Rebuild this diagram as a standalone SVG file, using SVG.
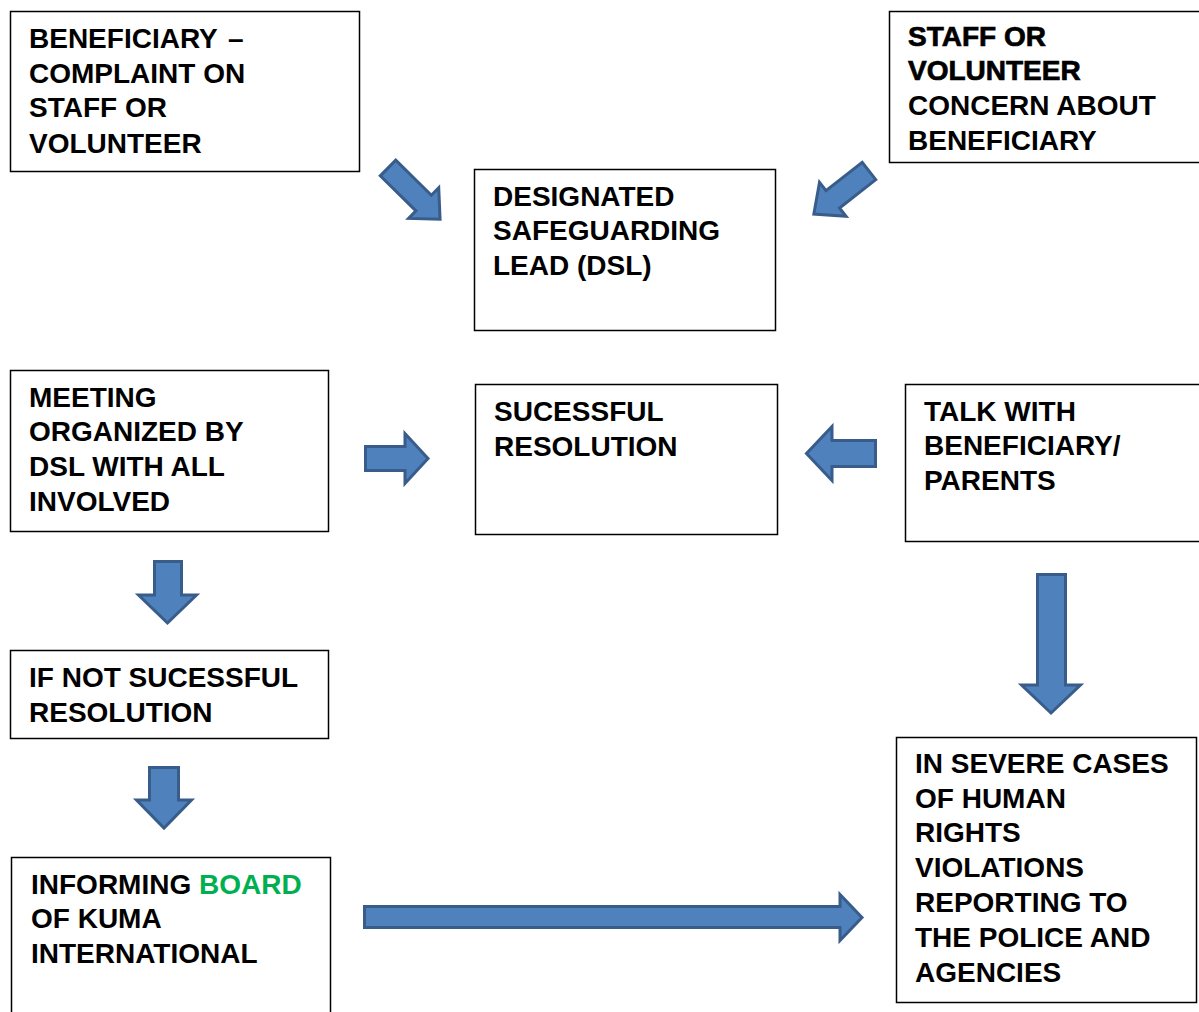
<svg xmlns="http://www.w3.org/2000/svg" width="1199" height="1012" viewBox="0 0 1199 1012">
<style>
.box{fill:#fff;stroke:#000;stroke-width:1.5}
.t{font-family:"Liberation Sans",Arial,sans-serif;font-weight:bold;font-size:28px;fill:#000}
.heavy{stroke:#000;stroke-width:0.7}
.green{fill:#00B050}
.arr{fill:#4F81BD;stroke:#385D8A;stroke-width:3;stroke-linejoin:miter}
</style>
<rect width="1199" height="1012" fill="#fff"/>
<g id="node-complaint">
<rect class="box" x="10.5" y="11.5" width="349" height="160"/>
<text class="t"><tspan x="29" y="48">BENEFICIARY <tspan dx="3">–</tspan></tspan><tspan x="29" y="83">COMPLAINT ON</tspan><tspan x="29" y="117">STAFF OR</tspan><tspan x="29" y="153">VOLUNTEER</tspan></text>
</g>
<g id="node-concern">
<rect class="box" x="889.5" y="11.5" width="312" height="151"/>
<text class="t"><tspan class="heavy" x="908" y="46">STAFF OR</tspan><tspan class="heavy" x="908" y="80">VOLUNTEER</tspan><tspan x="908" y="115">CONCERN ABOUT</tspan><tspan x="908" y="150">BENEFICIARY</tspan></text>
</g>
<g id="node-dsl">
<rect class="box" x="474.5" y="169.5" width="301" height="161"/>
<text class="t"><tspan x="493" y="206">DESIGNATED</tspan><tspan x="493" y="240">SAFEGUARDING</tspan><tspan x="493" y="275">LEAD (DSL)</tspan></text>
</g>
<g id="node-meeting">
<rect class="box" x="10.5" y="370.5" width="318" height="161"/>
<text class="t"><tspan x="29" y="407">MEETING</tspan><tspan x="29" y="441">ORGANIZED BY</tspan><tspan x="29" y="476">DSL WITH ALL</tspan><tspan x="29" y="511">INVOLVED</tspan></text>
</g>
<g id="node-success">
<rect class="box" x="475.5" y="384.5" width="302" height="150"/>
<text class="t"><tspan x="494" y="421">SUCESSFUL</tspan><tspan x="494" y="456">RESOLUTION</tspan></text>
</g>
<g id="node-talk">
<rect class="box" x="905.5" y="384.5" width="296" height="157"/>
<text class="t"><tspan x="924" y="421">TALK WITH</tspan><tspan x="924" y="455">BENEFICIARY/</tspan><tspan x="924" y="490">PARENTS</tspan></text>
</g>
<g id="node-notsuccess">
<rect class="box" x="10.5" y="650.5" width="318" height="88"/>
<text class="t"><tspan x="29" y="687">IF NOT SUCESSFUL</tspan><tspan x="29" y="722">RESOLUTION</tspan></text>
</g>
<g id="node-board">
<rect class="box" x="11.5" y="857.5" width="319" height="160"/>
<text class="t"><tspan x="31" y="894">INFORMING <tspan class="green">BOARD</tspan></tspan><tspan x="31" y="928">OF KUMA</tspan><tspan x="31" y="963">INTERNATIONAL</tspan></text>
</g>
<g id="node-severe">
<rect class="box" x="896.5" y="737.5" width="300" height="265"/>
<text class="t"><tspan x="915" y="773">IN SEVERE CASES</tspan><tspan x="915" y="808">OF HUMAN</tspan><tspan x="915" y="842">RIGHTS</tspan><tspan x="915" y="877">VIOLATIONS</tspan><tspan x="915" y="912">REPORTING TO</tspan><tspan x="915" y="947">THE POLICE AND</tspan><tspan x="915" y="982">AGENCIES</tspan></text>
</g>
<g id="connectors">
<path class="arr" transform="translate(388,168) rotate(44.5)" d="M0,-11 L50,-11 L50,-21.5 L73,0 L50,21.5 L50,11 L0,11 Z"/>
<path class="arr" transform="translate(869,171) rotate(142)" d="M0,-11 L46,-11 L46,-21.5 L70,0 L46,21.5 L46,11 L0,11 Z"/>
<path class="arr" d="M365.5,446.5 L405,446.5 L405,433.5 L428,458.5 L405,483.5 L405,470.5 L365.5,470.5 Z"/>
<path class="arr" d="M875.5,440.5 L832,440.5 L832,426.5 L806.5,453.5 L832,480.5 L832,466.5 L875.5,466.5 Z"/>
<path class="arr" d="M154.5,561.5 L181.5,561.5 L181.5,595 L196.5,595 L167.5,623 L138.5,595 L154.5,595 Z"/>
<path class="arr" d="M149.5,767.5 L178.5,767.5 L178.5,800 L191.5,800 L164,828 L136.5,800 L149.5,800 Z"/>
<path class="arr" d="M1037.5,574.5 L1065.5,574.5 L1065.5,685 L1080.5,685 L1051,713 L1021.5,685 L1037.5,685 Z"/>
<path class="arr" d="M364.5,906.5 L840,906.5 L840,894.5 L862,917.5 L840,940.5 L840,927.5 L364.5,927.5 Z"/>
</g>
</svg>
